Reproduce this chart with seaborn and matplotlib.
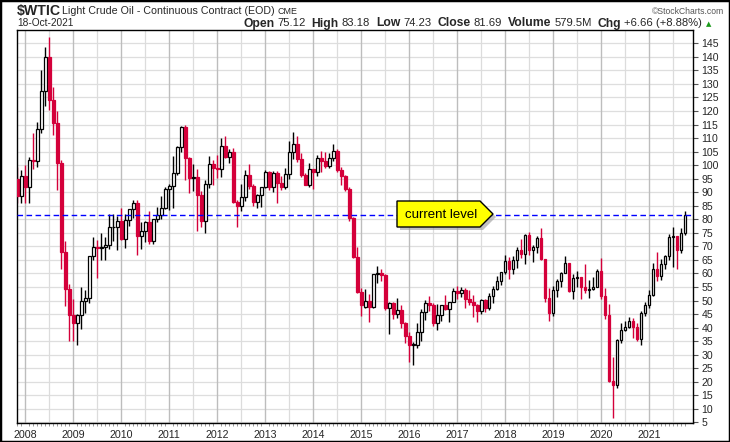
import matplotlib
matplotlib.use('Agg')

import numpy as np
import pandas as pd
import matplotlib.pyplot as plt
from matplotlib.patches import Polygon, Rectangle
import seaborn as sns

# monthly candles, Nov 2007 .. Oct 2021
months = pd.period_range("2007-11", "2021-10", freq="M")

opens = [
    95.0, 88.7,
    96.0, 91.75, 101.84, 101.58, 113.46, 127.35, 140.0, 124.08, 115.46, 100.64, 67.81, 54.43,
    44.6, 41.68, 44.76, 49.66, 51.12, 66.31, 69.89, 69.45, 69.96, 70.61, 77.0, 77.28,
    79.36, 72.89, 79.66, 83.76, 86.15, 73.97, 75.63, 78.95, 71.92, 79.97, 81.43, 84.11,
    91.38, 92.19, 96.97, 106.72, 113.93, 102.7, 95.42, 95.7, 88.81, 79.2, 93.19, 100.36,
    98.83, 98.48, 107.07, 103.02, 104.87, 86.53, 84.96, 88.06, 96.47, 92.19, 86.24, 88.91,
    91.82, 97.49, 92.05, 97.23, 93.46, 91.97, 96.56, 105.03, 107.65, 102.33, 96.38, 92.72,
    98.42, 97.49, 102.59, 101.58, 99.74, 102.71, 105.37, 98.17, 95.96, 91.16, 80.54, 66.15,
    53.27, 47.8, 49.76, 47.6, 59.63, 60.3, 59.47, 47.12, 49.2, 45.09, 46.59, 41.65,
    37.04, 33.62, 33.75, 38.34, 45.92, 49.1, 48.33, 41.6, 44.7, 48.24, 46.86, 49.44,
    53.72, 52.81, 54.01, 50.6, 49.33, 48.32, 46.04, 50.17, 47.23, 51.67, 54.38, 57.4,
    60.42, 64.73, 61.64, 64.94, 68.57, 67.04, 74.15, 68.76, 69.8, 73.25, 65.31, 50.93,
    45.41, 53.79, 57.22, 60.14, 63.91, 53.5, 58.47, 58.58, 55.1, 54.07, 54.18, 55.17,
    61.06, 51.56, 44.76, 20.48, 18.84, 35.49, 39.27, 40.27, 42.61, 40.22, 35.79, 45.34,
    48.52, 52.2, 61.5, 59.16, 63.58, 66.32, 73.47, 73.95, 68.5, 75.12,
]
highs = [
    99.3, 98.2,
    100.1, 103.1, 111.8, 116.0, 135.1, 143.7, 147.3, 129.0, 120.0, 102.0, 72.0, 56.0,
    50.5, 44.9, 55.0, 54.0, 66.5, 73.4, 72.2, 75.0, 73.5, 82.0, 82.0, 81.4,
    84.0, 82.0, 83.9, 87.1, 87.2, 79.0, 79.5, 83.0, 80.3, 84.5, 88.5, 92.0,
    93.0, 103.4, 107.0, 114.5, 114.8, 103.0, 100.6, 98.6, 90.5, 94.7, 103.4, 101.8,
    103.7, 110.0, 110.6, 106.0, 106.4, 87.0, 92.9, 98.3, 100.4, 93.0, 89.2, 91.0,
    98.2, 98.0, 97.8, 97.8, 96.0, 99.0, 108.9, 112.2, 110.7, 104.4, 97.0, 100.8,
    98.5, 103.8, 105.2, 104.9, 104.5, 107.7, 105.9, 99.3, 96.2, 92.0, 80.9, 69.8,
    54.6, 54.2, 52.5, 59.9, 62.6, 61.8, 59.7, 49.3, 49.5, 50.9, 48.4, 42.0,
    38.4, 34.7, 41.9, 46.8, 50.2, 51.7, 49.0, 48.8, 48.4, 51.9, 49.2, 54.5,
    55.2, 54.9, 54.6, 53.8, 52.0, 48.9, 50.4, 50.4, 52.9, 55.2, 59.0, 60.5,
    66.7, 66.0, 66.6, 69.6, 72.9, 74.5, 75.3, 70.5, 74.0, 76.9, 65.5, 54.5,
    55.4, 57.8, 60.7, 66.6, 64.0, 59.9, 60.9, 58.8, 63.4, 57.5, 58.7, 61.8,
    65.6, 54.7, 48.7, 29.1, 35.7, 41.6, 42.5, 43.8, 43.4, 41.9, 46.3, 49.4,
    53.9, 63.8, 68.0, 65.5, 67.0, 74.5, 77.0, 74.0, 76.7, 83.18,
]
lows = [
    86.0, 85.9,
    86.1, 86.1, 98.7, 99.5, 111.8, 122.0, 120.4, 111.2, 91.0, 61.5, 48.0, 35.0,
    35.0, 33.5, 39.5, 45.5, 49.0, 64.8, 58.5, 65.0, 65.0, 69.0, 72.0, 68.6,
    72.4, 69.5, 77.5, 80.5, 67.0, 69.0, 71.5, 70.8, 70.8, 79.0, 80.1, 83.9,
    83.5, 84.0, 96.5, 105.0, 94.6, 89.7, 90.3, 75.7, 77.1, 75.0, 91.5, 92.5,
    95.4, 95.8, 102.5, 100.7, 86.0, 77.3, 83.0, 86.9, 91.1, 84.8, 84.1, 84.5,
    91.5, 90.9, 90.0, 86.1, 91.0, 91.1, 95.0, 102.2, 101.2, 95.7, 92.5, 91.8,
    91.2, 96.0, 97.4, 98.9, 98.8, 101.4, 97.5, 92.5, 90.4, 79.4, 65.7, 52.7,
    44.2, 47.4, 42.0, 47.1, 56.5, 57.1, 46.7, 37.8, 43.2, 43.6, 40.0, 34.5,
    27.5, 26.1, 32.5, 35.2, 43.0, 46.2, 40.6, 39.2, 42.5, 46.7, 42.2, 49.3,
    50.7, 51.2, 47.1, 48.2, 43.8, 42.1, 44.9, 45.6, 46.5, 49.1, 53.8, 55.8,
    59.8, 58.1, 59.9, 62.0, 65.8, 63.6, 67.0, 64.4, 67.5, 64.9, 49.4, 42.4,
    44.4, 51.2, 55.1, 60.0, 53.0, 50.6, 55.0, 50.5, 52.8, 51.0, 54.0, 55.0,
    50.6, 43.3, 20.0, 6.5, 17.8, 34.4, 38.7, 40.0, 36.1, 35.0, 33.6, 44.2,
    47.2, 51.6, 57.3, 57.6, 61.6, 64.9, 62.5, 61.7, 67.6, 74.23,
]
closes = [
    88.7, 95.98,
    91.75, 101.84, 101.58, 113.46, 127.35, 140.0, 124.08, 115.46, 100.64, 67.81, 54.43, 44.6,
    41.68, 44.76, 49.66, 51.12, 66.31, 69.89, 69.45, 69.96, 70.61, 77.0, 77.28, 79.36,
    72.89, 79.66, 83.76, 86.15, 73.97, 75.63, 78.95, 71.92, 79.97, 81.43, 84.11, 91.38,
    92.19, 96.97, 106.72, 113.93, 102.7, 95.42, 95.7, 88.81, 79.2, 93.19, 100.36, 98.83,
    98.48, 107.07, 103.02, 104.87, 86.53, 84.96, 88.06, 96.47, 92.19, 86.24, 88.91, 91.82,
    97.49, 92.05, 97.23, 93.46, 91.97, 96.56, 105.03, 107.65, 102.33, 96.38, 92.72, 98.42,
    97.49, 102.59, 101.58, 99.74, 102.71, 105.37, 98.17, 95.96, 91.16, 80.54, 66.15, 53.27,
    48.24, 49.76, 47.6, 59.63, 60.3, 59.47, 47.12, 49.2, 45.09, 46.59, 41.65, 37.04,
    33.62, 33.75, 38.34, 45.92, 49.1, 48.33, 41.6, 44.7, 48.24, 46.86, 49.44, 53.72,
    52.81, 54.01, 50.6, 49.33, 48.32, 46.04, 50.17, 47.23, 51.67, 54.38, 57.4, 60.42,
    64.73, 61.64, 64.94, 68.57, 67.04, 74.15, 68.76, 69.8, 73.25, 65.31, 50.93, 45.41,
    53.79, 57.22, 60.14, 63.91, 53.5, 58.47, 58.58, 55.1, 54.07, 54.18, 55.17, 61.06,
    51.56, 44.76, 20.48, 18.84, 35.49, 39.27, 40.27, 42.61, 40.22, 35.79, 45.34, 48.52,
    52.2, 61.5, 59.16, 63.58, 66.32, 73.47, 73.95, 68.5, 75.03, 81.69,
]

current_level = 81.69
y_ticks = list(range(5, 150, 5))
header = [("Open", "75.12"), ("High", "83.18"), ("Low", "74.23"), ("Close", "81.69"),
          ("Volume", "579.5M"), ("Chg", "+6.66 (+8.88%)")]

df = pd.DataFrame({"month": months, "open": opens, "high": highs,
                   "low": lows, "close": closes})
df["x"] = np.arange(len(df))
df["up"] = df["close"] >= df["open"]

RED = "#d4003a"

sns.set_theme(style="white")
plt.rcParams['font.family'] = ['Liberation Sans', 'DejaVu Sans']

W, H = 730, 442
fig = plt.figure(figsize=(7.3, 4.42), dpi=100)
L, R, T, B = 17, 693, 30, 423
ax = fig.add_axes([L / W, (H - B) / H, (R - L) / W, (B - T) / H])

# grid
for v in y_ticks:
    ax.axhline(v, color="#dedede", lw=0.9, zorder=0)
for i, m in zip(df["x"], df["month"]):
    if m.month == 1:
        ax.axvline(i, color="#bdbdbd", lw=1.0, zorder=0)
    elif m.month == 7:
        ax.axvline(i, color="#dcdcdc", lw=0.9, zorder=0)

# wicks
wick_col = np.where(df["up"], "black", RED)
ax.vlines(df["x"], df["low"], df["high"], colors=wick_col, lw=1.0, zorder=2)

# bodies
body_bottom = np.minimum(df["open"], df["close"])
body_h = np.maximum(np.abs(df["close"] - df["open"]), 0.35)
ax.bar(df["x"], body_h, bottom=body_bottom, width=0.72,
       color=np.where(df["up"], "white", RED),
       edgecolor=np.where(df["up"], "black", RED), linewidth=0.9, zorder=3)

ax.axhline(current_level, color="#0000ff", lw=1.0, ls=(0, (4, 2.5)), zorder=4)

ax.set_xlim(-0.05, len(df) - 1 + 2.0)
ax.set_ylim(4.8, 149.9)

ax.yaxis.tick_right()
ax.set_yticks(y_ticks)
ax.set_yticklabels([str(v) for v in y_ticks], fontsize=7.6)
jan = df.loc[df["month"].map(lambda p: p.month == 1), "x"]
ax.set_xticks(jan)
ax.set_xticklabels([str(p.year) for p in df.loc[jan.index, "month"]], fontsize=7.7)
ax.set_xticks(df["x"], minor=True)
ax.tick_params(axis="y", which="major", length=3.5, width=0.8, pad=2.5,
               color="#555555", right=True, left=False)
ax.tick_params(axis="x", which="major", length=0, pad=5)
ax.tick_params(axis="x", which="minor", length=2, width=0.6, color="#888888",
               bottom=True)
for s in ax.spines.values():
    s.set_color("black")
    s.set_linewidth(1.0)
ax.set_xlabel("")
ax.set_ylabel("")

# callout "current level"
def px(xp, yp):
    return ((xp - L) / (R - L), (B - yp) / (B - T))

tag = [(397, 201), (480, 201), (493, 214), (480, 227), (397, 227)]
shadow = [(x + 3, y + 3) for x, y in tag]
ax.add_patch(Polygon([px(*p) for p in shadow], closed=True, transform=ax.transAxes,
                     facecolor="#9a9a9a", edgecolor="none", zorder=5, alpha=0.6))
ax.add_patch(Polygon([px(*p) for p in tag], closed=True, transform=ax.transAxes,
                     facecolor="#ffff00", edgecolor="black", lw=1.0, zorder=6))
ax.text(*px(441, 214.5), "current level", transform=ax.transAxes, fontsize=9.5,
        ha="center", va="center", color="black", zorder=7)

# header texts
def fy(yp):
    return 1 - yp / H

fig.text(17 / W, fy(14.5), "$WTIC", fontsize=10.2, fontweight="bold", va="baseline")
fig.text(62 / W, fy(14.5), "Light Crude Oil - Continuous Contract (EOD)",
         fontsize=7.7, va="baseline")
fig.text(278 / W, fy(14.5), "CME", fontsize=6.4, va="baseline")
fig.text(17 / W, fy(26.5), "18-Oct-2021", fontsize=7.3, va="baseline")
fig.text(724 / W, fy(13.5), "\u00a9StockCharts.com", fontsize=6.2, color="#555555",
         ha="right", va="baseline")

# quote line between x=243 and the green triangle ending near x=710
renderer = fig.canvas.get_renderer()
pieces = []
for lab, val in header:
    t1 = fig.text(0, fy(26.5), lab, fontsize=8.4, fontweight="bold", va="baseline")
    t2 = fig.text(0, fy(26.5), val, fontsize=7.8, va="baseline")
    pieces.append((t1, t2))
tri = fig.text(0, fy(26.0), "\u25b2", fontsize=5, color="#1a9a1a",
               family="DejaVu Sans", va="baseline")
inner, gap = 3, 6
tri_w = tri.get_window_extent(renderer).width
text_w = sum(a.get_window_extent(renderer).width + b.get_window_extent(renderer).width
             for a, b in pieces)
scale = (710 - 243 - tri_w - 4 - inner * len(pieces) - gap * (len(pieces) - 1)) / text_w
for a, b in pieces:
    a.set_fontsize(8.4 * scale)
    b.set_fontsize(7.8 * scale)
xcur = 243
for t1, t2 in pieces:
    w1 = t1.get_window_extent(renderer).width
    w2 = t2.get_window_extent(renderer).width
    t1.set_x(xcur / W)
    t2.set_x((xcur + w1 + inner) / W)
    xcur += w1 + inner + w2 + gap
tri.set_x((xcur - gap + 4) / W)

fig.patches.append(Rectangle((0, 0), 1, 1, transform=fig.transFigure, fill=False,
                             edgecolor="black", lw=2.5, zorder=10))

fig.savefig("out.png", dpi=100, facecolor="white")
plt.close(fig)
